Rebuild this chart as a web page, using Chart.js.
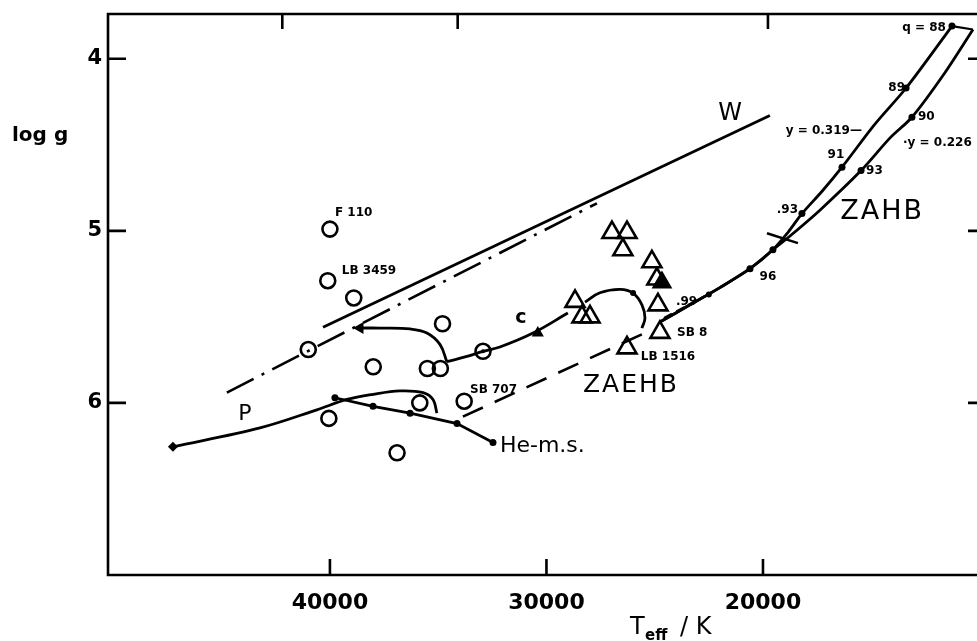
<!DOCTYPE html>
<html>
<head>
<meta charset="utf-8">
<script src="https://cdn.jsdelivr.net/npm/chart.js@4.4.0/dist/chart.umd.min.js"></script>
<style>
  html, body { margin: 0; padding: 0; background: #fff; overflow: hidden; }
</style>
</head>
<body>
<canvas id="chart" width="977" height="641"></canvas>
<script>
// axis ticks
const xTickVals = [40000, 30000, 20000];
const yTickVals = [4, 5, 6];
const topTickVals = [42200, 34100, 19770];

// open circles (Teff, log g)
const circleT = [40000, 40100, 38900, 41000, 34800, 38000, 35500, 34900, 33800, 35850, 40050, 36900];
const circleG = [4.99, 5.29, 5.39, 5.69, 5.54, 5.79, 5.80, 5.80, 5.99, 6.00, 6.09, 6.29];
const dotCircleT = [32930];
const dotCircleG = [5.70];

// open triangles, plus one filled
const triT = [26975, 26280, 26470, 25130, 24900, 24850, 24760, 26280, 28680, 28360, 27990];
const triG = [5.01, 5.01, 5.11, 5.18, 5.28, 5.43, 5.59, 5.68, 5.41, 5.50, 5.50];
const triFilledT = [24665];
const triFilledG = [5.30];

// tracks
const wT = [40320, 19680];
const wG = [5.56, 4.33];
const dashDotT = [44760, 27670];
const dashDotG = [5.94, 4.84];
const zaehbT = [33860, 25220];
const zaehbG = [6.08, 5.58];
const pT = [47250, 43230, 40600, 39215, 38010, 36770, 35700, 35240, 35060];
const pG = [6.255, 6.145, 6.04, 5.98, 5.95, 5.93, 5.94, 5.98, 6.06];
const heT = [39770, 38010, 36300, 34130, 32470];
const heG = [5.97, 6.02, 6.06, 6.12, 6.23];
const arrowTrackT = [38700, 37690, 36300, 35520, 34920, 34600];
const arrowTrackG = [5.565, 5.565, 5.57, 5.594, 5.66, 5.76];
const cTrackT = [34600, 33670, 32930, 32150, 30620, 29010];
const cTrackG = [5.76, 5.73, 5.70, 5.675, 5.594, 5.478];
const loopT = [28220, 27530, 26600, 26000, 25590, 25450, 25590];
const loopG = [5.414, 5.36, 5.34, 5.362, 5.43, 5.507, 5.565];

// ZAHB, y = 0.319 and y = 0.226
const zahb1T = [24760, 23370, 21990, 20600, 19540, 18850, 18200, 17270, 16350, 14830, 13390, 11270];
const zahb1G = [5.53, 5.43, 5.33, 5.22, 5.11, 5.01, 4.90, 4.77, 4.63, 4.38, 4.17, 3.81];
const zahb2T = [24760, 23370, 21990, 20600, 19540, 18750, 17370, 15470, 14130, 13120, 11590, 10300];
const zahb2G = [5.53, 5.43, 5.33, 5.22, 5.11, 5.03, 4.88, 4.65, 4.46, 4.34, 4.08, 3.83];
const zahbTopT = [11270, 10300];
const zahbTopG = [3.81, 3.83];
const zahbDashT = [24570, 22680];
const zahbDashG = [5.507, 5.38];
const crossT = [19815, 18384];
const crossG = [5.014, 5.072];
const zahbDotT = [11270, 13390, 16350, 18200, 13120, 15470, 20600, 19540];
const zahbDotG = [3.81, 4.17, 4.63, 4.90, 4.34, 4.65, 5.22, 5.11];

// labels: text, Teff, log g
const labelText = ["F 110", "LB 3459", "SB 707", "SB 8", "LB 1516", ".99", "q = 88", "89", "90", "y = 0.319—", "·y = 0.226", "91", "93", ".93", "96"];
const labelT = [39770, 39450, 33530, 23970, 25640, 24020, 11550, 13440, 12840, 15430, 13530, 16630, 15240, 18380, 19770];
const labelG = [4.893, 5.23, 5.925, 5.594, 5.733, 5.415, 3.82, 4.17, 4.34, 4.417, 4.49, 4.56, 4.65, 4.88, 5.27];
const bigText = ["c", "W", "P", "He-m.s.", "ZAEHB", "ZAHB"];
const bigT = [31180, 21520, 43930, 32150, 26100, 14500];
const bigG = [5.507, 4.32, 6.064, 6.25, 5.896, 4.893];

function pts(ts, gs) {
    return ts.map((t, i) => ({ x: t, y: gs[i] }));
}

function line(ts, gs, extra) {
    return Object.assign({
        data: pts(ts, gs),
        showLine: true,
        borderColor: "#000",
        backgroundColor: "#000",
        borderWidth: 2.8,
        pointRadius: 0,
        fill: false
    }, extra || {});
}

function marks(ts, gs, extra) {
    return Object.assign({
        data: pts(ts, gs),
        showLine: false,
        borderColor: "#000",
        backgroundColor: "#000",
        borderWidth: 0,
        pointRadius: 3
    }, extra || {});
}

const FONT = "'DejaVu Sans', sans-serif";

// frame (no right side, it is cut off), inward ticks and the text
const decor = {
    id: "decor",
    afterDraw(chart) {
        const { ctx, chartArea: a, scales: { x, y } } = chart;
        ctx.save();
        ctx.strokeStyle = "#000";
        ctx.lineWidth = 2.6;
        ctx.beginPath();
        ctx.moveTo(a.right + 2, a.top);
        ctx.lineTo(a.left, a.top);
        ctx.lineTo(a.left, a.bottom);
        ctx.lineTo(a.right + 2, a.bottom);
        xTickVals.forEach(v => {
            const px = x.getPixelForValue(v);
            ctx.moveTo(px, a.bottom); ctx.lineTo(px, a.bottom - 16);
        });
        topTickVals.forEach(v => {
            const px = x.getPixelForValue(v);
            ctx.moveTo(px, a.top); ctx.lineTo(px, a.top + 15);
        });
        yTickVals.forEach(v => {
            const py = y.getPixelForValue(v);
            ctx.moveTo(a.left, py); ctx.lineTo(a.left + 18, py);
            ctx.moveTo(a.right, py); ctx.lineTo(a.right - 9, py);
        });
        ctx.stroke();

        ctx.fillStyle = "#000";
        ctx.textBaseline = "middle";
        ctx.font = "bold 12px " + FONT;
        labelText.forEach((s, i) => {
            ctx.textAlign = "left";
            if (s === "q = 88" || s === "89" || s === "y = 0.319—" || s === ".93") ctx.textAlign = "right";
            if (s === "91" || s === "96") ctx.textAlign = "center";
            ctx.fillText(s, x.getPixelForValue(labelT[i]), y.getPixelForValue(labelG[i]));
        });
        const bigFonts = ["bold 19px ", "24px ", "22px ", "22px ", "25px ", "27px "];
        bigText.forEach((s, i) => {
            ctx.font = bigFonts[i] + FONT;
            ctx.textAlign = s === "He-m.s." ? "left" : "center";
            ctx.letterSpacing = (s === "ZAEHB" || s === "ZAHB") ? "2px" : "0px";
            ctx.fillText(s, x.getPixelForValue(bigT[i]), y.getPixelForValue(bigG[i]));
        });
        ctx.letterSpacing = "0px";

        // axis titles
        ctx.font = "bold 20px " + FONT;
        ctx.textAlign = "left";
        ctx.fillText("log g", 12, 136);
        ctx.font = "24px " + FONT;
        ctx.textBaseline = "alphabetic";
        ctx.fillText("T", 630, 634);
        ctx.font = "bold 15px " + FONT;
        ctx.fillText("eff", 645, 640);
        ctx.font = "24px " + FONT;
        ctx.fillText("/ K", 680, 634);
        ctx.restore();
    }
};

const chart = new Chart(document.getElementById("chart"), {
    type: "scatter",
    data: {
        datasets: [
            marks(circleT, circleG, { pointStyle: "circle", pointRadius: 7.5, borderWidth: 2.6, backgroundColor: "rgba(0,0,0,0)" }),
            marks(dotCircleT, dotCircleG, { pointStyle: "circle", pointRadius: 7.5, borderWidth: 2.6, backgroundColor: "rgba(0,0,0,0)" }),
            marks(dotCircleT, dotCircleG, { pointRadius: 2 }),
            marks(triT, triG, { pointStyle: "triangle", pointRadius: 11, borderWidth: 2.6, backgroundColor: "rgba(0,0,0,0)" }),
            marks(triFilledT, triFilledG, { pointStyle: "triangle", pointRadius: 10, borderWidth: 2 }),
            marks([38610, 30400], [5.565, 5.594], { pointStyle: "triangle", pointRadius: 7, pointRotation: [-90, -120] }),
            marks([47250], [6.255], { pointStyle: "rectRot", pointRadius: 5 }),
            marks(heT, heG, { pointRadius: 3.5 }),
            marks(zahbDotT, zahbDotG, { pointRadius: 3.5 }),
            marks([26000, 22500], [5.362, 5.37], { pointRadius: 3 }),
            line(wT, wG),
            line(dashDotT, dashDotG, { borderDash: [30, 9, 3, 9], borderWidth: 2.6 }),
            line(zaehbT, zaehbG, { borderDash: [22, 13], borderWidth: 2.6 }),
            line(pT, pG, { tension: 0.35 }),
            line(heT, heG),
            line(arrowTrackT, arrowTrackG, { tension: 0.4 }),
            line(cTrackT, cTrackG, { tension: 0.4 }),
            line(loopT, loopG, { tension: 0.4 }),
            line(zahb1T, zahb1G, { tension: 0.3 }),
            line(zahb2T, zahb2G, { tension: 0.3 }),
            line(zahbTopT, zahbTopG, { borderWidth: 2.2 }),
            line(zahbDashT, zahbDashG, { borderDash: [9, 5], borderWidth: 2.4 }),
            line(crossT, crossG, { borderWidth: 2.4 })
        ]
    },
    options: {
        responsive: false,
        animation: false,
        events: [],
        layout: { autoPadding: false, padding: { top: 14, right: 0, left: 0, bottom: 0 } },
        plugins: { legend: { display: false }, tooltip: { enabled: false } },
        scales: {
            x: {
                type: "linear",
                reverse: true,
                min: 10115,
                max: 50250,
                grid: { display: false, drawTicks: false },
                border: { display: false },
                afterBuildTicks: s => { s.ticks = xTickVals.map(v => ({ value: v })); },
                afterFit: s => { s.height = 66; s.paddingLeft = 0; s.paddingRight = 0; },
                ticks: { color: "#000", padding: 15, font: { family: FONT, size: 22, weight: "bold" }, callback: v => String(v) }
            },
            y: {
                type: "linear",
                reverse: true,
                min: 3.74,
                max: 7.0,
                grid: { display: false, drawTicks: false },
                border: { display: false },
                afterBuildTicks: s => { s.ticks = yTickVals.map(v => ({ value: v })); },
                afterFit: s => { s.width = 108; s.paddingTop = 0; s.paddingBottom = 0; },
                ticks: { color: "#000", padding: 6, font: { family: FONT, size: 21, weight: "bold" }, callback: v => String(v) }
            }
        }
    },
    plugins: [decor]
});
</script>
</body>
</html>
